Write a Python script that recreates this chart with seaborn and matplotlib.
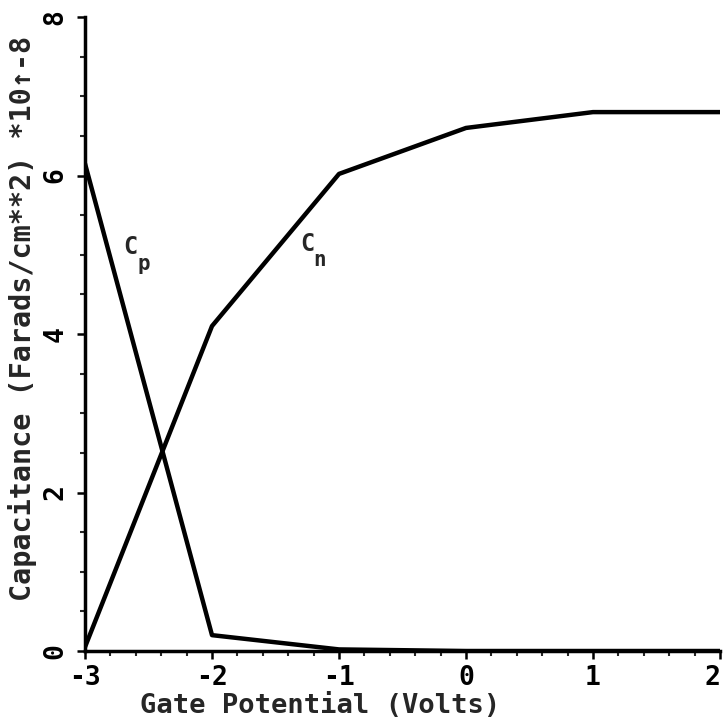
import pandas as pd
import seaborn as sns
import matplotlib.pyplot as plt
from matplotlib.ticker import MultipleLocator

# gate potential (V) and capacitance values (units of 1e-8 F/cm^2)
gate_v = [-3, -2, -1, 0, 1, 2]
cap_p = [6.15, 0.2, 0.02, 0.0, 0.0, 0.0]
cap_n = [0.05, 4.1, 6.02, 6.6, 6.8, 6.8]

df = pd.DataFrame({'Gate': gate_v * 2,
                   'Cap': cap_p + cap_n,
                   'Curve': ['p'] * len(gate_v) + ['n'] * len(gate_v)})

sns.set_style('ticks')
plt.rcParams['font.family'] = ['DejaVu Sans Mono', 'DejaVu Sans']
plt.rcParams['font.weight'] = 'bold'
plt.rcParams['axes.unicode_minus'] = False

fig = plt.figure(figsize=(7.23, 7.23), dpi=100)
ax = fig.add_axes([85 / 723, 72 / 723, 635 / 723, 634 / 723])

sns.lineplot(data=df, x='Gate', y='Cap', units='Curve', estimator=None,
             color='black', linewidth=3.2, ax=ax)

ax.set_xlim(-3, 2)
ax.set_ylim(0, 8)
ax.set_xticks(gate_v)
ax.xaxis.set_minor_locator(MultipleLocator(0.2))
ax.set_yticks([0, 2, 4, 6, 8])
ax.yaxis.set_minor_locator(MultipleLocator(0.5))
ax.tick_params(which='major', direction='out', length=6, width=1.8, labelsize=19, colors='black')
ax.tick_params(which='minor', direction='out', length=3.5, width=1.5)
ax.tick_params(axis='x', pad=4)
ax.tick_params(axis='y', pad=6)
ax.tick_params(axis='y', labelrotation=90)

sns.despine(ax=ax)
for side in ['left', 'bottom']:
    ax.spines[side].set_linewidth(2.5)
    ax.spines[side].set_color('black')

ax.set_xlabel('Gate Potential (Volts)', fontsize=19.5, fontweight='bold')
ax.set_ylabel('Capacitance (Farads/cm**2) *10\u2191-8', fontsize=20.5, fontweight='bold')
ax.xaxis.set_label_coords(235 / 635, -42 / 634)
ax.yaxis.set_label_coords(-48 / 635, 0.525)

ax.text(-2.64, 5.1, 'C', fontsize=17, fontweight='bold', ha='center', va='center')
ax.text(-2.54, 4.88, 'p', fontsize=15, fontweight='bold', ha='center', va='center')
ax.text(-1.25, 5.13, 'C', fontsize=17, fontweight='bold', ha='center', va='center')
ax.text(-1.15, 4.93, 'n', fontsize=15, fontweight='bold', ha='center', va='center')

fig.canvas.draw()
for lab in ax.get_yticklabels():
    lab.set_va('center')
# keep the last x label inside the figure
for tick in ax.xaxis.get_major_ticks():
    if tick.get_loc() == gate_v[-1]:
        tick.label1.set_ha('right')

plt.savefig('out.png', dpi=100)
